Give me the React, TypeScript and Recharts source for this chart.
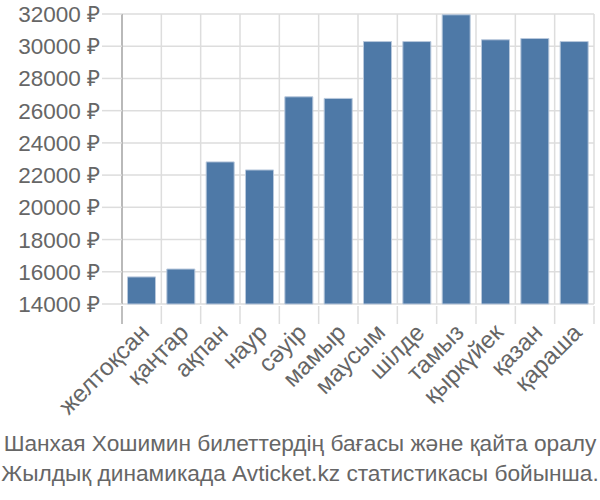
import { BarChart, Bar, XAxis, YAxis, CartesianGrid } from "recharts";

const months = [
  "желтоқсан",
  "қаңтар",
  "ақпан",
  "наур",
  "сәуір",
  "мамыр",
  "маусым",
  "шілде",
  "тамыз",
  "қыркүйек",
  "қазан",
  "қараша",
];

const prices = [15680, 16170, 22820, 22320, 26860, 26760, 30290, 30290, 31950, 30400, 30480, 30290];

const priceTicks = [14000, 16000, 18000, 20000, 22000, 24000, 26000, 28000, 30000, 32000];

const titleLines = [
  "Шанхая Хошимин билеттердің бағасы және қайта оралу",
  "Жылдық динамикада Avticket.kz статистикасы бойынша.",
];

const data = months.map((month, i) => ({ month, price: prices[i] }));

const font = "'Liberation Sans', Arial, sans-serif";

function MonthTick({ x, y, payload, index }: any) {
  // half a category band, taken from the tick's own offset
  const half = payload.offset > 0 ? payload.offset : (600 - 128) / months.length / 2;
  const last = index === months.length - 1;
  return (
    <g>
      <line
        x1={x - half}
        x2={x - half}
        y1={y}
        y2={y + 18}
        stroke={index === 0 ? "#aaaaaa" : "#dddddd"}
        strokeWidth={1.5}
      />
      {last && <line x1={x + half} x2={x + half} y1={y} y2={y + 18} stroke="#dddddd" strokeWidth={1.5} />}
      <g transform={`translate(${x + 3},${y + 22}) rotate(-45)`}>
        <text textAnchor="end" fill="#666666" fontSize={24} fontFamily={font} dy="0.35em">
          {payload.value}
        </text>
      </g>
    </g>
  );
}

export default function App() {
  return (
    <div style={{ position: "relative", width: 600, height: 500, fontFamily: font }}>
      <style>{`body { margin: 0; }`}</style>
      <BarChart
        width={600}
        height={500}
        data={data}
        margin={{ top: 14, right: 6, bottom: 76, left: 0 }}
        barCategoryGap="14%"
      >
        <CartesianGrid
          stroke="#dddddd"
          strokeWidth={1.5}
          verticalCoordinatesGenerator={({ offset }: any) =>
            months.map((_, i) => offset.left + (i * offset.width) / months.length).concat(offset.left + offset.width)
          }
        />
        <XAxis
          dataKey="month"
          interval={0}
          tickSize={0}
          tickLine={false}
          axisLine={false}
          height={120}
          tick={<MonthTick />}
        />
        <YAxis
          domain={[14000, 32000]}
          ticks={priceTicks}
          interval={0}
          tickFormatter={(v) => `${v} ₽`}
          width={122}
          tickSize={20}
          tickMargin={2}
          tickLine={{ stroke: "#dddddd", strokeWidth: 1.5 }}
          axisLine={{ stroke: "#aaaaaa", strokeWidth: 1.5 }}
          tick={{ fill: "#666666", fontSize: 22.5, fontFamily: font }}
        />
        <Bar
          dataKey="price"
          fill="#4e79a7"
          stroke="#b8c8dc"
          strokeWidth={1}
          isAnimationActive={false}
        />
      </BarChart>
      <div
        style={{
          position: "absolute",
          left: 0,
          top: 428,
          width: 600,
          textAlign: "center",
          color: "#666666",
          fontSize: 22.7,
          lineHeight: "30px",
          whiteSpace: "nowrap",
        }}
      >
        {titleLines.map((line) => (
          <div key={line}>{line}</div>
        ))}
      </div>
    </div>
  );
}
